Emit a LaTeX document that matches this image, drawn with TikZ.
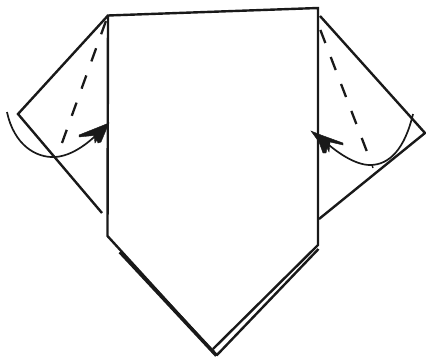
\documentclass[tikz,border=0pt]{standalone}
\begin{document}
\begin{tikzpicture}[x=1pt,y=-1pt,
  ln/.style={draw=black!90,line width=2.4pt,line join=miter},
  thin ln/.style={draw=black!90,line width=1.7pt},
  dash ln/.style={draw=black!90,line width=2.3pt,dash pattern=on 14pt off 14.9pt},
  head/.style={fill=black!90,draw=black!90,line width=0.4pt}]
\useasboundingbox (0,0) rectangle (426,357);
% named corners
\coordinate (tl) at (108,15.5);
\coordinate (tr) at (318,8);
\coordinate (bl) at (107.5,236);
\coordinate (br) at (318,245);
\coordinate (apex) at (216.5,355.5);
\coordinate (lf) at (18,114);
\coordinate (lfe) at (102,213);
\coordinate (rft) at (320,16);
\coordinate (rf) at (425,133);
\coordinate (rfe) at (319,219);
% body
\draw[ln] (apex) -- (bl) -- (tl) -- (tr) -- (br) -- (213,349);
\draw[ln,line width=3.6pt] (120,252) -- (apex);
\draw[ln] (318.5,249) -- (apex);
\draw[ln,line width=1.4pt] (apex) -- (213,350);
% flaps
\draw[ln] (tl) -- (lf) -- (lfe);
\draw[ln] (rft) -- (rf) -- (rfe);
% dashed fold lines
\draw[dash ln] (62,143) -- (107,18);
\draw[dash ln] (366.7,151) -- (320,29);
% curved arrows
\draw[thin ln] (7,112) .. controls (14,145) and (36,158) .. (55,157) .. controls (72,156) and (90,143) .. (106,125);
\draw[thin ln] (413,114) .. controls (405,148) and (390,165) .. (370,165) .. controls (355,165) and (335,152) .. (318,135);
% arrow heads
\fill[head] (109,123) -- (79,135) -- (79,137) -- (94,135.5) -- (95,143) -- (97,140) -- (98,143) -- (101,142) -- cycle;
\fill[head] (311,131) -- (321,135) -- (343,143) -- (343,145) -- (330,142) -- (329,152) -- (327,148) -- (326,153) -- (323,153) -- (319,142) -- cycle;
\draw[ln,line width=1.4pt] (372,165) -- (373,168);
\end{tikzpicture}
\end{document}
